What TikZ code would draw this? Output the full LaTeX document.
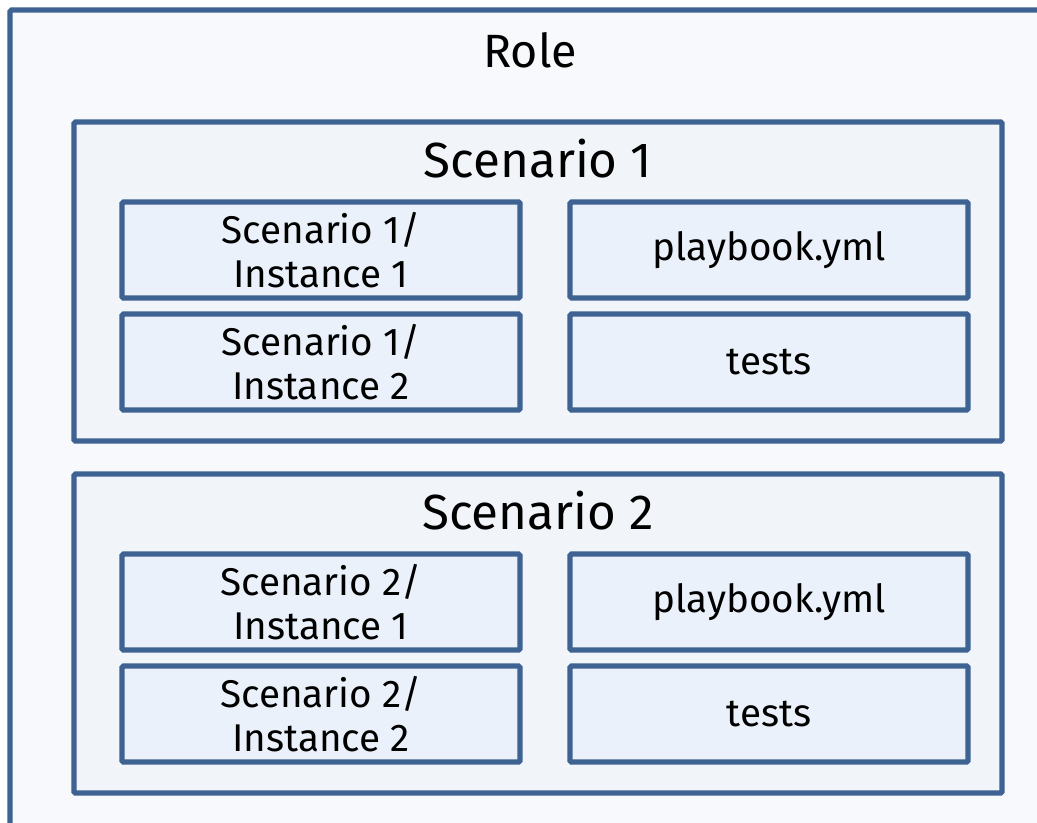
\documentclass[tikz,border=0pt]{standalone}
\usepackage{fontspec}
\setmainfont{Fira Sans}

\definecolor{boxedge}{RGB}{62,98,145}
\definecolor{rolefill}{RGB}{247,249,253}
\definecolor{scenfill}{RGB}{241,245,250}
\definecolor{itemfill}{RGB}{234,241,250}

\tikzset{
    outline/.style={draw=boxedge, line width=3.8pt, rounded corners=1pt},
    scenbox/.style={outline, fill=scenfill, minimum width=696pt, minimum height=239.25pt},
    itembox/.style={outline, fill=itemfill, minimum width=298.5pt, minimum height=72pt,
        align=center, font=\fontsize{29}{33}\selectfont},
    heading/.style={anchor=base, font=\fontsize{35}{40}\selectfont}
}

\begin{document}
\begin{tikzpicture}[x=0.75pt, y=-0.75pt]
    \useasboundingbox (0,0) rectangle (1037,822);
    \clip (0,0) rectangle (1037,822);
    % the role frame runs off the page on the right and at the bottom
    \filldraw[outline, fill=rolefill] (10,10) rectangle (1070,860);
    \node[heading] (role) at (530,67) {Role};
    \foreach \s/\dy in {1/0, 2/352} {
        \node[scenbox] (scen\s) at (538,281.5+\dy) {};
        \node[heading, font=\fontsize{37}{40}\selectfont] (scen\s-title) at (538,177+\dy) {Scenario \s};
        \node[itembox] (inst\s-1) at (321,250+\dy) {Scenario \s/\\Instance 1};
        \node[itembox] (inst\s-2) at (321,362+\dy) {Scenario \s/\\Instance 2};
        \node[itembox] (play\s) at (769,250+\dy) {playbook.yml};
        \node[itembox] (tests\s) at (769,362+\dy) {tests};
    }
\end{tikzpicture}
\end{document}
